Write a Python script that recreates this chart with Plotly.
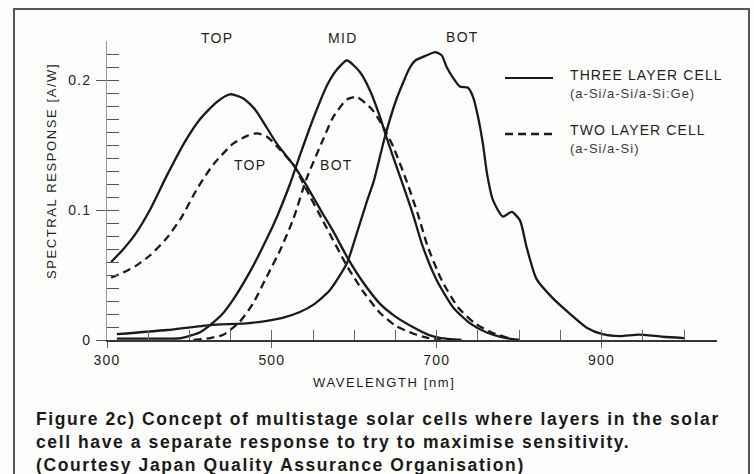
import plotly.graph_objects as go

# ---------------- data ----------------
# Three layer cell (a-Si/a-Si/a-Si:Ge)
top3_wl = [305, 320, 335, 352, 373, 395, 413, 433, 449, 465, 480, 506, 527, 540, 560, 575, 592, 610, 631, 650, 671, 690, 705, 730]
top3_sr = [0.060, 0.070, 0.082, 0.100, 0.127, 0.153, 0.170, 0.183, 0.189, 0.186, 0.177, 0.151, 0.134, 0.121, 0.099, 0.083, 0.063, 0.045, 0.028, 0.018, 0.010, 0.004, 0.0015, 0.0]

mid3_wl = [312, 350, 390, 413, 425, 440, 453, 473, 494, 507, 522, 534, 550, 567, 579, 591, 607, 619, 631, 639, 647, 657, 671, 683, 700, 720, 740, 760, 780, 800]
mid3_sr = [0.001, 0.001, 0.0015, 0.006, 0.0115, 0.020, 0.031, 0.052, 0.078, 0.096, 0.120, 0.142, 0.170, 0.196, 0.208, 0.215, 0.206, 0.192, 0.172, 0.156, 0.141, 0.123, 0.097, 0.072, 0.046, 0.025, 0.013, 0.006, 0.002, 0.0]

bot3_wl = [312, 373, 425, 473, 513, 534, 550, 570, 591, 603, 615, 624, 637, 651, 667, 674, 688, 698, 706, 712, 720, 728, 738, 744, 750, 756, 761, 768, 780, 791, 801, 809, 821, 841, 861, 882, 901, 922, 945, 974, 1000]
bot3_sr = [0.0045, 0.0077, 0.0115, 0.013, 0.017, 0.0215, 0.027, 0.038, 0.059, 0.082, 0.106, 0.123, 0.156, 0.185, 0.209, 0.215, 0.219, 0.2215, 0.219, 0.210, 0.2015, 0.195, 0.194, 0.187, 0.172, 0.151, 0.128, 0.108, 0.095, 0.0985, 0.092, 0.0715, 0.047, 0.032, 0.0205, 0.0095, 0.0045, 0.003, 0.0042, 0.0025, 0.0015]

# Two layer cell (a-Si/a-Si)
top2_wl = [305, 320, 335, 352, 372, 390, 409, 429, 453, 470, 482, 495, 506, 527, 540, 565, 592, 610, 631, 650, 671, 690, 705]
top2_sr = [0.048, 0.052, 0.057, 0.065, 0.078, 0.094, 0.116, 0.135, 0.151, 0.157, 0.159, 0.156, 0.149, 0.134, 0.118, 0.088, 0.056, 0.038, 0.021, 0.011, 0.005, 0.0015, 0.0]

bot2_wl = [405, 425, 441, 461, 477, 494, 510, 526, 542, 562, 574, 591, 603, 622, 635, 647, 663, 677, 689, 706, 726, 746, 766, 790]
bot2_sr = [0.0, 0.0015, 0.004, 0.014, 0.028, 0.049, 0.069, 0.093, 0.124, 0.154, 0.171, 0.185, 0.187, 0.177, 0.164, 0.149, 0.123, 0.097, 0.072, 0.046, 0.025, 0.013, 0.006, 0.001]

x_tickvals = [300, 500, 700, 900]
x_ticktext = ["300", "500", "700", "900"]
y_tickvals = [0, 0.1, 0.2]
y_ticktext = ["0", "0.1", "0.2"]

# ---------------- layout geometry ----------------
W, H = 754, 474
L, R, T, B = 107, 717, 41, 340
X_RANGE = [300, 1040]
Y_RANGE = [0, 0.23]

def pxx(x):
    return (x - L) / (R - L)

def pxy(y):
    return (B - y) / (B - T)

FONT = "Liberation Sans, Arial, Helvetica, sans-serif"
INK = "#1a1a1a"
TXT = "#1f1f1f"

def sp(text, ls=1.2):
    return f'<span style="letter-spacing:{ls}px">{text}</span>'

fig = go.Figure()

solid = dict(color=INK, width=2.3, shape="spline", smoothing=0.6)
dashed = dict(color=INK, width=2.3, dash="8px,5px", shape="spline", smoothing=0.6)

fig.add_trace(go.Scatter(x=top3_wl, y=top3_sr, mode="lines", line=solid, name="THREE LAYER CELL TOP", showlegend=False))
fig.add_trace(go.Scatter(x=mid3_wl, y=mid3_sr, mode="lines", line=solid, name="THREE LAYER CELL MID", showlegend=False))
fig.add_trace(go.Scatter(x=bot3_wl, y=bot3_sr, mode="lines", line=solid, name="THREE LAYER CELL BOT", showlegend=False))
# two-layer curves live on the overlaid (same-range) axes that carry the minor ticks
fig.add_trace(go.Scatter(x=top2_wl, y=top2_sr, mode="lines", line=dashed, name="TWO LAYER CELL TOP",
                         showlegend=False, xaxis="x2", yaxis="y2"))
fig.add_trace(go.Scatter(x=bot2_wl, y=bot2_sr, mode="lines", line=dashed, name="TWO LAYER CELL BOT",
                         showlegend=False, xaxis="x2", yaxis="y2"))

minor_x = [v for v in range(350, 1001, 50)]
minor_y = [round(0.01 * i, 2) for i in range(1, 24)]

fig.update_layout(
    width=W, height=H,
    margin=dict(l=L, r=W - R, t=T, b=H - B),
    paper_bgcolor="#fdfdfb", plot_bgcolor="rgba(0,0,0,0)",
    font=dict(family=FONT, size=14, color=TXT),
    showlegend=False,
    xaxis=dict(range=X_RANGE, showgrid=False, zeroline=False,
               showline=True, linecolor="#2f3a33", linewidth=2,
               tickmode="array", tickvals=x_tickvals,
               ticktext=[sp(t) for t in x_ticktext],
               ticks="outside", ticklen=6, tickwidth=1, tickcolor="#666",
               tickfont=dict(size=14, color=TXT)),
    xaxis2=dict(range=X_RANGE, overlaying="x", anchor="y", side="bottom",
                showgrid=False, zeroline=False, showline=False,
                tickmode="array", tickvals=minor_x, showticklabels=False,
                ticks="inside", ticklen=10, tickwidth=1, tickcolor="#666"),
    yaxis=dict(range=Y_RANGE, showgrid=False, zeroline=False,
               showline=True, linecolor="#9a9a9a", linewidth=1,
               tickmode="array", tickvals=y_tickvals,
               ticktext=[sp(t) for t in y_ticktext],
               ticks="outside", ticklen=10, tickwidth=1, tickcolor="#555",
               ticklabelstandoff=2,
               tickfont=dict(size=14, color=TXT)),
    yaxis2=dict(range=Y_RANGE, overlaying="y", anchor="x", side="left",
                showgrid=False, zeroline=False, showline=False,
                tickmode="array", tickvals=minor_y, showticklabels=False,
                ticks="inside", ticklen=12, tickwidth=1, tickcolor="#555"),
)

ann = []
# curve labels
for txt, cx, cy in [("TOP", 217, 38), ("MID", 343, 38), ("BOT", 462, 37),
                    ("TOP", 250, 165), ("BOT", 336, 165)]:
    ann.append(dict(text=sp(txt, 1.3), x=pxx(cx), y=pxy(cy), xref="paper", yref="paper",
                    showarrow=False, xanchor="center", yanchor="middle",
                    font=dict(size=14, color=TXT)))
# axis titles
ann.append(dict(text=sp("WAVELENGTH [nm]", 1.6), x=pxx(384), y=pxy(383), xref="paper", yref="paper",
                showarrow=False, xanchor="center", yanchor="middle", font=dict(size=13, color=TXT)))
ann.append(dict(text=sp("SPECTRAL RESPONSE [A/W]", 1.6), x=pxx(51), y=pxy(171), xref="paper", yref="paper",
                showarrow=False, xanchor="center", yanchor="middle", textangle=-90,
                font=dict(size=13, color=TXT)))
# legend text
for txt, y, sz, col, ls in [("THREE LAYER CELL", 75, 14, TXT, 1.1), ("(a-Si/a-Si/a-Si:Ge)", 93, 13, "#3a3a3a", 1.0),
                            ("TWO LAYER CELL", 130, 14, TXT, 1.1), ("(a-Si/a-Si)", 148, 13, "#3a3a3a", 1.0)]:
    ann.append(dict(text=sp(txt, ls), x=pxx(568), y=pxy(y), xref="paper", yref="paper",
                    showarrow=False, xanchor="left", yanchor="middle", font=dict(size=sz, color=col)))
# caption
cap_lines = ["Figure 2c) Concept of multistage solar cells where layers in the solar",
             "cell have a separate response to try to maximise sensitivity.",
             "(Courtesy Japan Quality Assurance Organisation)"]
caption = "<br>".join(sp(f"<b>{s}</b>", 1.6) for s in cap_lines)
ann.append(dict(text=caption, x=pxx(34), y=pxy(407), xref="paper", yref="paper",
                showarrow=False, xanchor="left", yanchor="top", align="left",
                font=dict(size=17.5, color="#1a1a1a")))
fig.update_layout(annotations=ann)

shapes = [
    # legend samples
    dict(type="line", xref="paper", yref="paper", x0=pxx(505), x1=pxx(553), y0=pxy(78), y1=pxy(78),
         line=dict(color=INK, width=2.2)),
    dict(type="line", xref="paper", yref="paper", x0=pxx(505), x1=pxx(553), y0=pxy(134), y1=pxy(134),
         line=dict(color=INK, width=2.3, dash="8px,5px")),
    # outer frame
    dict(type="rect", xref="paper", yref="paper", x0=pxx(14), x1=pxx(749), y0=pxy(9), y1=pxy(500),
         line=dict(color="#555", width=2), fillcolor="rgba(0,0,0,0)", layer="below"),
]
fig.update_layout(shapes=shapes)

fig.write_html("out.html")
